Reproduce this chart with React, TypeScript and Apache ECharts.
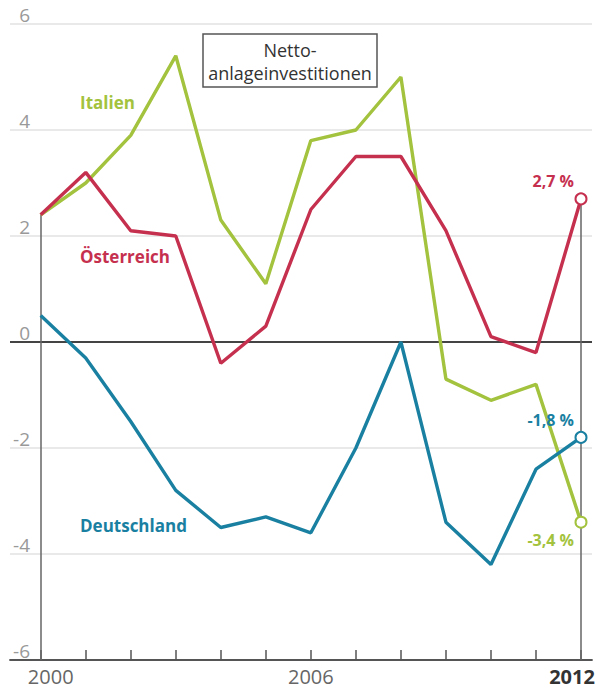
import React, { useEffect, useRef } from "react";
import * as echarts from "echarts";

const years = [2000, 2001, 2002, 2003, 2004, 2005, 2006, 2007, 2008, 2009, 2010, 2011, 2012];
const italien = [2.4, 3.0, 3.9, 5.4, 2.3, 1.1, 3.8, 4.0, 5.0, -0.7, -1.1, -0.8, -3.4];
const oesterreich = [2.4, 3.2, 2.1, 2.0, -0.4, 0.3, 2.5, 3.5, 3.5, 2.1, 0.1, -0.2, 2.7];
const deutschland = [0.5, -0.3, -1.5, -2.8, -3.5, -3.3, -3.6, -2.0, 0.0, -3.4, -4.2, -2.4, -1.8];
const xLabelYears = [2000, 2006, 2012];
const yTicks = [-6, -4, -2, 0, 2, 4, 6];
const title = "Netto-\nanlageinvestitionen";

const GREEN = "#a3c23d";
const RED = "#c6304f";
const BLUE = "#1a80a2";
const FONT = "'Open Sans', sans-serif";

const W = 599;
const H = 689;
// plot geometry
const x2000 = 40.7;
const x2012 = 581;
const gridL = 10;
const gridR = 592;
const pxPerYear = (x2012 - x2000) / (years[years.length - 1] - years[0]);
const xMin = years[0] - (x2000 - gridL) / pxPerYear;
const xMax = years[years.length - 1] + (gridR - x2012) / pxPerYear;

const fmt = (v: number) => v.toFixed(1).replace(".", ",") + " %";

function makeSeries(name: string, values: number[], color: string, labelPos: string) {
  const last = values.length - 1;
  return {
    name,
    type: "line",
    z: 5,
    color,
    lineStyle: { color, width: 3.4 },
    symbol: "circle",
    showAllSymbol: true,
    symbolSize: (_v: any, p: any) => (p.dataIndex === last ? 11 : 0),
    itemStyle: { color: "#fff", borderColor: color, borderWidth: 2 },
    data: values.map((v, i) => ({
      value: [years[i], v],
      label:
        i === last
          ? {
              show: true,
              position: labelPos,
              align: "right",
              distance: 3,
              offset: [-7, 0],
              formatter: () => fmt(v),
              color,
              fontFamily: FONT,
              fontWeight: "bold",
              fontSize: 16,
            }
          : { show: false },
    })),
  };
}

export default function App() {
  const ref = useRef<HTMLDivElement>(null);
  useEffect(() => {
    if (!ref.current) return;
    const chart = echarts.init(ref.current, null, { renderer: "svg" });
    const allSeries = [italien, oesterreich, deutschland];
    const firstMax = Math.max(...allSeries.map((s) => s[0]));
    const lastMax = Math.max(...allSeries.map((s) => s[s.length - 1]));
    const yMin = yTicks[0];
    const option: any = {
      animation: false,
      grid: { left: gridL, right: W - gridR, top: 24, bottom: H - 660 },
      xAxis: {
        type: "value",
        min: xMin,
        max: xMax,
        splitLine: { show: false },
        axisLine: { show: true, onZero: false, lineStyle: { color: "#555", width: 1.8 } },
        axisTick: {
          show: true,
          inside: true,
          length: 10,
          customValues: years,
          lineStyle: { color: "#555", width: 1.5 },
        },
        axisLabel: {
          show: true,
          customValues: xLabelYears,
          margin: 6,
          fontFamily: FONT,
          fontSize: 20,
          color: "#666",
          formatter: (v: number) => {
            if (v === xLabelYears[0]) return "{a|" + v + "}";
            if (v === xLabelYears[xLabelYears.length - 1]) return "{b|" + v + "}";
            return String(v);
          },
          rich: {
            a: { fontFamily: FONT, fontSize: 20, color: "#666", padding: [0, 0, 0, 20] },
            b: { fontFamily: FONT, fontSize: 20, color: "#333", fontWeight: "bold", padding: [0, 18, 0, 0] },
          },
        },
      },
      yAxis: {
        type: "value",
        min: -6,
        max: 6,
        interval: 2,
        axisLine: { show: false },
        axisTick: { show: false },
        splitLine: { show: true, lineStyle: { color: "#e2e2e2", width: 1.5 } },
        axisLabel: {
          inside: true,
          align: "right",
          verticalAlign: "bottom",
          margin: 20,
          fontFamily: FONT,
          fontSize: 19,
          color: "#999",
          formatter: (v: number) => String(v),
        },
      },
      series: [
        {
          type: "line",
          data: [],
          z: 2,
          silent: true,
          markLine: {
            silent: true,
            symbol: "none",
            label: { show: false },
            animation: false,
            data: [
              { yAxis: 0, lineStyle: { color: "#444", width: 2, type: "solid" } },
              [
                { coord: [years[0], firstMax], lineStyle: { color: "#666", width: 1.5, type: "solid" } },
                { coord: [years[0], yMin] },
              ],
              [
                { coord: [years[years.length - 1], lastMax], lineStyle: { color: "#666", width: 1.5, type: "solid" } },
                { coord: [years[years.length - 1], yMin] },
              ],
            ],
          },
        },
        makeSeries("Italien", italien, GREEN, "bottom"),
        makeSeries("Österreich", oesterreich, RED, "top"),
        makeSeries("Deutschland", deutschland, BLUE, "top"),
      ],
      graphic: [
        {
          type: "rect",
          shape: { x: 203, y: 34, width: 174, height: 53 },
          style: { fill: "#fff", stroke: "#555", lineWidth: 1.5 },
          z: 10,
        },
        {
          type: "text",
          x: 290,
          y: 61,
          z: 11,
          style: {
            text: title,
            align: "center",
            verticalAlign: "middle",
            fontFamily: FONT,
            fontSize: 18,
            lineHeight: 23,
            fill: "#333",
          },
        },
        {
          type: "text",
          x: 80,
          y: 102,
          style: { text: "Italien", fill: GREEN, fontFamily: FONT, fontWeight: "bold", fontSize: 17, verticalAlign: "middle" },
        },
        {
          type: "text",
          x: 80,
          y: 256,
          style: { text: "Österreich", fill: RED, fontFamily: FONT, fontWeight: "bold", fontSize: 17, verticalAlign: "middle" },
        },
        {
          type: "text",
          x: 80,
          y: 525,
          style: { text: "Deutschland", fill: BLUE, fontFamily: FONT, fontWeight: "bold", fontSize: 17, verticalAlign: "middle" },
        },
      ],
    };
    chart.setOption(option);
    return () => chart.dispose();
  }, []);
  return (
    <div
      ref={ref}
      style={{ position: "fixed", left: 0, top: 0, width: W, height: H, background: "#fff" }}
    />
  );
}
